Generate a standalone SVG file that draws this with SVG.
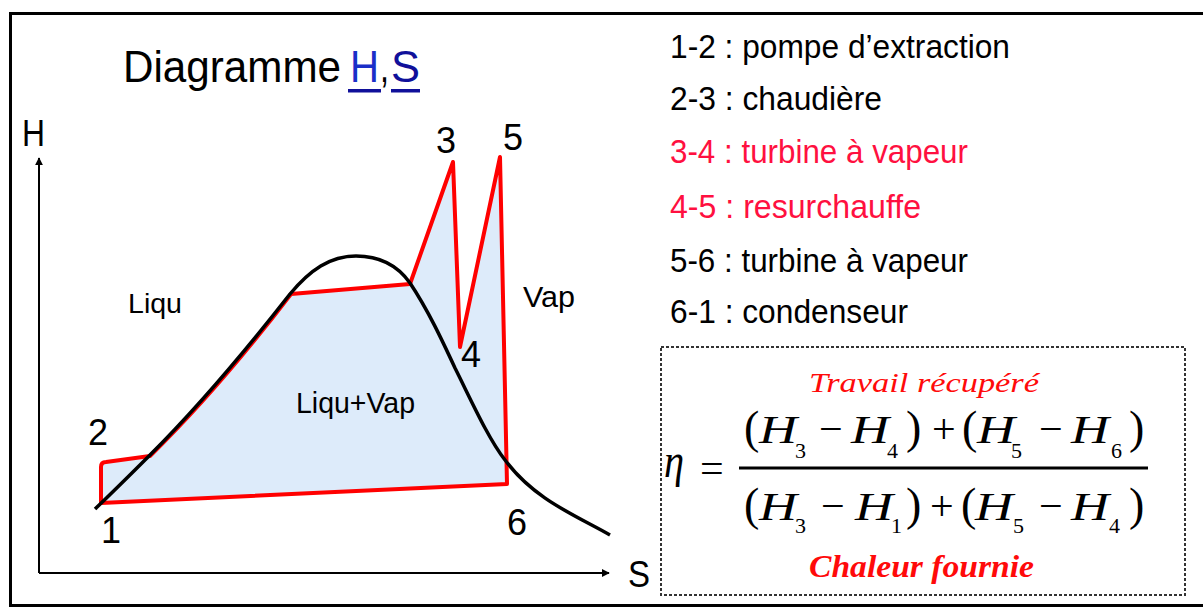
<svg xmlns="http://www.w3.org/2000/svg" width="1203" height="608" viewBox="0 0 1203 608">
<style>
.sans{font-family:"Liberation Sans",Arial,sans-serif;}
.serif{font-family:"Liberation Serif","Times New Roman",serif;}
.lbl{font-family:"Liberation Sans",Arial,sans-serif;font-size:36px;fill:#000;}
.leg{font-family:"Liberation Sans",Arial,sans-serif;font-size:33px;}
.blk{fill:#000;}
.red{fill:#ff1040;}
.H{font-family:"Liberation Serif","Times New Roman",serif;font-style:italic;font-size:40px;fill:#000;}
.sub{font-family:"Liberation Serif","Times New Roman",serif;font-size:22px;fill:#000;}
.op{font-family:"Liberation Serif","Times New Roman",serif;font-size:42px;fill:#000;}
.par{font-family:"Liberation Serif","Times New Roman",serif;font-size:46px;fill:#000;}
.note{font-family:"Liberation Serif","Times New Roman",serif;font-style:italic;fill:#ff0a0a;}
</style>
<defs>
<marker id="arr" viewBox="0 0 10 10" refX="9" refY="5" markerWidth="4" markerHeight="4" orient="auto" markerUnits="strokeWidth">
<path d="M0,0 L10,5 L0,10 Z" fill="#000"/>
</marker>
</defs>
<rect x="0" y="0" width="1203" height="608" fill="#fff"/>
<!-- outer frame -->
<path d="M10.5,606 L10.5,13.5 L1203,13.5 M9,605.5 L1203,605.5" fill="none" stroke="#000" stroke-width="3"/>

<g id="title">
<text class="sans" x="123" y="82" font-size="44" textLength="218" lengthAdjust="spacingAndGlyphs" fill="#000">Diagramme</text>
<text class="sans" x="350" y="82" font-size="44" textLength="29" lengthAdjust="spacingAndGlyphs" fill="#1a2fc8">H</text>
<text class="sans" x="380" y="82" font-size="44" textLength="9" lengthAdjust="spacingAndGlyphs" fill="#000">,</text>
<text class="sans" x="391" y="82" font-size="44" textLength="29" lengthAdjust="spacingAndGlyphs" fill="#10109a">S</text>
<rect x="348" y="89" width="33" height="3.5" fill="#10109a"/>
<rect x="391" y="89" width="29" height="3.5" fill="#10109a"/>
</g>

<g id="connectors">
<!-- axes -->
<line x1="39" y1="573" x2="39" y2="158" stroke="#000" stroke-width="2" marker-end="url(#arr)"/>
<line x1="39" y1="573" x2="609" y2="573" stroke="#000" stroke-width="2" marker-end="url(#arr)"/>
<!-- cycle -->
<path id="cycle" d="M101,503 L101,467 Q101,462 106,462 L150,456 C202,405 252,345 291,294 L410,284 L453,162 L460,347 L500,157 L507,484 Z" fill="#ddebfa" stroke="#ff0000" stroke-width="4" stroke-linejoin="round"/>
<!-- saturation dome -->
<path id="dome" d="M95,509 C115,490 135,470 150,455 C200,405 250,345 290,294 C310,270 330,256 356,256 C380,256 398,266 410,283 C428,310 442,340 455,368 C472,402 488,438 505,460 C535,500 575,515 610,535" fill="none" stroke="#000" stroke-width="3.5"/>
</g>

<g id="axis-labels">
<text class="lbl" x="22" y="146" textLength="23" lengthAdjust="spacingAndGlyphs">H</text>
<text class="lbl" x="628" y="587" textLength="22" lengthAdjust="spacingAndGlyphs">S</text>
</g>

<g id="points">
<text class="lbl" x="101" y="543">1</text>
<text class="lbl" x="88" y="445">2</text>
<text class="lbl" x="436" y="153">3</text>
<text class="lbl" x="461" y="367">4</text>
<text class="lbl" x="503" y="150">5</text>
<text class="lbl" x="507" y="535">6</text>
</g>

<g id="regions">
<text class="sans" x="128" y="313" font-size="28" textLength="54" lengthAdjust="spacingAndGlyphs" fill="#000">Liqu</text>
<text class="sans" x="523" y="307" font-size="30" textLength="52" lengthAdjust="spacingAndGlyphs" fill="#000">Vap</text>
<text class="sans" x="296" y="413" font-size="30" textLength="119" lengthAdjust="spacingAndGlyphs" fill="#000">Liqu+Vap</text>
</g>

<g id="legend">
<text class="leg blk" x="670" y="58" textLength="340" lengthAdjust="spacingAndGlyphs">1-2 : pompe d’extraction</text>
<text class="leg blk" x="670" y="110" textLength="212" lengthAdjust="spacingAndGlyphs">2-3 : chaudière</text>
<text class="leg red" x="670" y="163" textLength="298" lengthAdjust="spacingAndGlyphs">3-4 : turbine à vapeur</text>
<text class="leg red" x="670" y="218" textLength="251" lengthAdjust="spacingAndGlyphs">4-5 : resurchauffe</text>
<text class="leg blk" x="670" y="272" textLength="298" lengthAdjust="spacingAndGlyphs">5-6 : turbine à vapeur</text>
<text class="leg blk" x="670" y="323" textLength="238" lengthAdjust="spacingAndGlyphs">6-1 : condenseur</text>
</g>

<g id="formula">
<rect x="661" y="347" width="524" height="248" fill="#fff" stroke="#333" stroke-width="2" stroke-dasharray="3 2"/>
<text class="note" x="809" y="392" font-size="28" textLength="230" lengthAdjust="spacingAndGlyphs">Travail récupéré</text>
<text class="note" x="809" y="577" font-size="32" font-weight="bold" textLength="225" lengthAdjust="spacingAndGlyphs">Chaleur fournie</text>
<text class="serif" x="664" y="477" font-size="48" font-style="italic" textLength="20" lengthAdjust="spacingAndGlyphs" fill="#000">η</text>
<text class="op" x="700" y="482">=</text>
<line x1="739" y1="468" x2="1148" y2="468" stroke="#000" stroke-width="3"/>
<!-- numerator -->
<text class="par" x="744" y="443">(</text>
<text class="H" x="759" y="443" textLength="38" lengthAdjust="spacingAndGlyphs">H</text>
<text class="sub" x="795" y="458">3</text>
<text class="op" x="819" y="443">−</text>
<text class="H" x="851" y="443" textLength="38" lengthAdjust="spacingAndGlyphs">H</text>
<text class="sub" x="887" y="458">4</text>
<text class="par" x="906" y="443">)</text>
<text class="op" x="932" y="443">+</text>
<text class="par" x="962" y="443">(</text>
<text class="H" x="977" y="443" textLength="38" lengthAdjust="spacingAndGlyphs">H</text>
<text class="sub" x="1011" y="458">5</text>
<text class="op" x="1039" y="443">−</text>
<text class="H" x="1071" y="443" textLength="38" lengthAdjust="spacingAndGlyphs">H</text>
<text class="sub" x="1111" y="458">6</text>
<text class="par" x="1129" y="443">)</text>
<!-- denominator -->
<text class="par" x="744" y="520">(</text>
<text class="H" x="759" y="520" textLength="38" lengthAdjust="spacingAndGlyphs">H</text>
<text class="sub" x="795" y="533">3</text>
<text class="op" x="821" y="520">−</text>
<text class="H" x="855" y="520" textLength="38" lengthAdjust="spacingAndGlyphs">H</text>
<text class="sub" x="891" y="533">1</text>
<text class="par" x="906" y="520">)</text>
<text class="op" x="930" y="520">+</text>
<text class="par" x="961" y="520">(</text>
<text class="H" x="975" y="520" textLength="38" lengthAdjust="spacingAndGlyphs">H</text>
<text class="sub" x="1013" y="533">5</text>
<text class="op" x="1039" y="520">−</text>
<text class="H" x="1071" y="520" textLength="38" lengthAdjust="spacingAndGlyphs">H</text>
<text class="sub" x="1109" y="533">4</text>
<text class="par" x="1129" y="520">)</text>
</g>
</svg>
